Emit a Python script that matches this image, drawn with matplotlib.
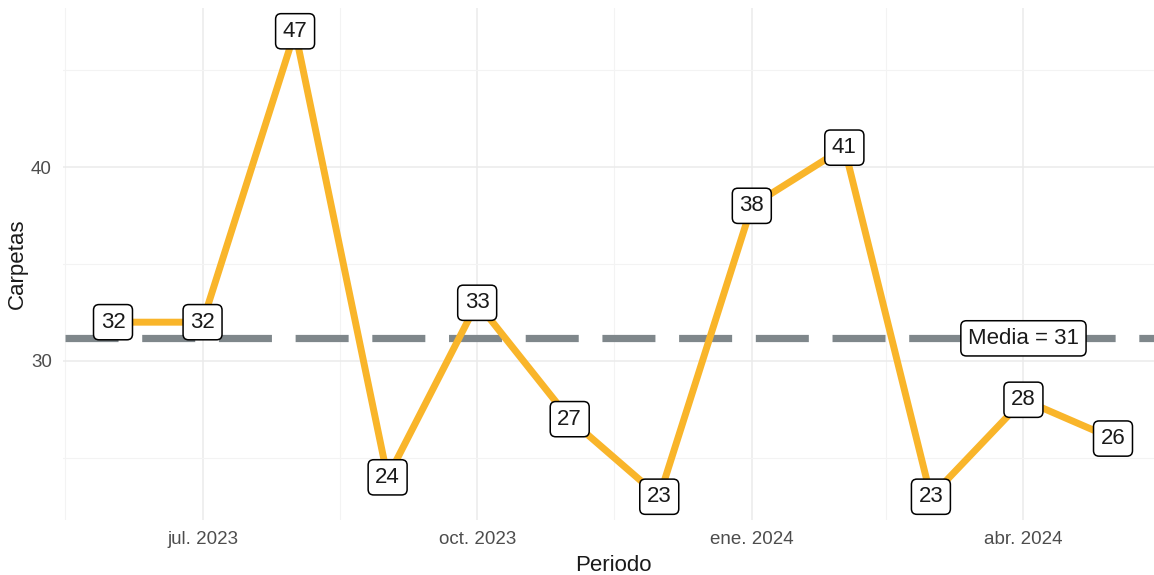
import numpy as np
import pandas as pd
import matplotlib
matplotlib.use("Agg")
import matplotlib.pyplot as plt
import matplotlib.dates as mdates

plt.rcParams['font.family'] = ['Liberation Sans', 'DejaVu Sans']

periodos = pd.date_range("2023-06-01", periods=12, freq="MS")
carpetas = [32, 32, 47, 24, 33, 27, 23, 38, 41, 23, 28, 26]
tick_fechas = pd.to_datetime(["2023-07-01", "2023-10-01", "2024-01-01", "2024-04-01"])
tick_labels = ["jul. 2023", "oct. 2023", "ene. 2024", "abr. 2024"]
minor_fechas = pd.to_datetime(["2023-05-16", "2023-08-16", "2023-11-16", "2024-02-15", "2024-05-16"])

media = np.mean(carpetas)

fig = plt.figure(figsize=(11.54, 5.75), dpi=100)
ax = fig.add_axes([63 / 1154, 55 / 575, 1100 / 1154, 512 / 575])

# rango con 5% de expansion como ggplot
x0, x1 = mdates.date2num(periodos[0]), mdates.date2num(periodos[-1])
dx = (x1 - x0) * 0.05
ax.set_xlim(x0 - dx, x1 + dx)
y0, y1 = min(carpetas), max(carpetas)
dy = (y1 - y0) * 0.05
ax.set_ylim(y0 - dy, y1 + dy)

ax.axhline(media, color="#7f878b", lw=5.2, linestyle=(10.34, (7.34, 3.28)), zorder=2)
ax.plot(periodos, carpetas, color="#f9b52a", lw=5.0, zorder=3, solid_capstyle="butt")

box = dict(boxstyle="round,pad=0.32,rounding_size=0.25", fc="white", ec="black", lw=1.1)
for fecha, v in zip(periodos, carpetas):
    ax.text(fecha, v, str(v), ha="center", va="center", fontsize=16,
            color="#1a1a1a", bbox=box, zorder=4)
ax.text(pd.Timestamp("2024-04-01"), media, f"Media = {round(media)}", ha="center",
        va="center", fontsize=16, color="#1a1a1a", bbox=box, zorder=4)

ax.set_xticks(tick_fechas)
ax.set_xticklabels(tick_labels)
ax.set_xticks(minor_fechas, minor=True)
ax.set_yticks([30, 40])
ax.set_yticks([25, 35, 45], minor=True)
ax.grid(which="major", color="#ebebeb", lw=1.1)
ax.grid(which="minor", color="#f3f3f3", lw=0.8)
ax.set_axisbelow(True)
for s in ax.spines.values():
    s.set_visible(False)
ax.tick_params(which="both", length=0, labelsize=13.5, colors="#4d4d4d", pad=8)

ax.set_xlabel("Periodo", fontsize=16, color="#1a1a1a", labelpad=5)
ax.set_ylabel("Carpetas", fontsize=16, color="#1a1a1a", labelpad=2)

fig.savefig("out.png", dpi=100)
